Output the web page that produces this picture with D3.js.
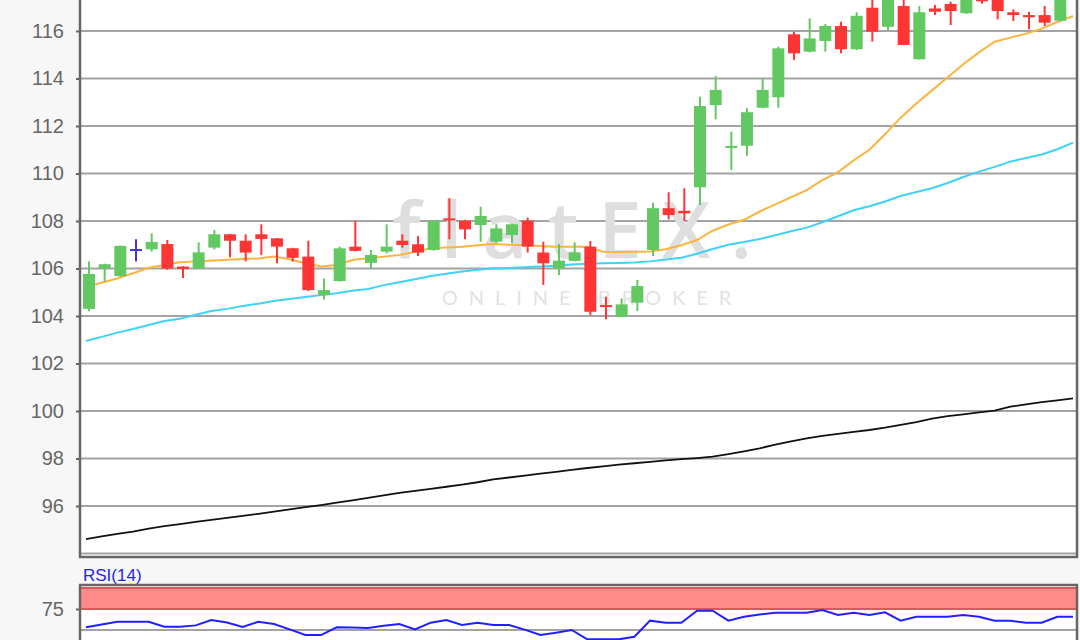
<!DOCTYPE html>
<html>
<head>
<meta charset="utf-8">
<script src="https://cdn.jsdelivr.net/npm/d3@7"></script>
<style>
  html, body { margin: 0; padding: 0; background: #f7f7f7; }
  svg { display: block; }
</style>
</head>
<body>
<svg id="chart" width="1080" height="640"></svg>
<script>
// ---------- DATA ----------
const openV  = [104.3,106.0,105.68,106.82,106.81,107.03,106.08,106.0,106.88,107.44,107.17,107.44,107.27,106.85,106.5,104.88,105.47,106.92,106.24,106.71,107.17,107.02,106.78,108.11,108.01,107.83,107.13,107.41,108.01,106.67,106.0,106.32,106.92,104.46,103.97,104.56,106.78,108.54,108.43,109.42,112.88,111.1,111.17,112.77,113.21,115.86,115.13,115.58,116.21,115.23,116.98,116.18,117.05,114.81,116.95,117.14,116.75,117.35,117.35,116.79,116.67,116.67,116.43];
const highV  = [106.3,106.2,106.97,107.23,107.48,107.2,106.1,107.1,107.62,107.45,107.44,107.86,107.28,106.87,107.17,105.58,106.92,108.0,106.78,107.86,107.44,107.37,108.03,108.96,108.05,108.6,107.86,107.88,108.14,107.13,107.03,107.1,107.16,104.81,104.74,105.52,108.77,109.21,109.38,113.23,114.11,111.76,112.75,114.01,115.34,115.97,116.53,116.29,116.39,116.79,117.4,117.8,117.5,117.05,117.09,117.23,117.5,117.5,117.5,116.91,116.81,117.05,117.6];
const lowV   = [104.2,105.45,105.65,106.3,106.71,105.95,105.6,105.98,106.8,106.47,106.3,106.57,106.22,106.29,105.05,104.7,105.45,106.72,106.0,106.64,106.88,106.53,106.75,107.23,107.23,107.13,107.06,107.06,106.67,105.31,105.73,106.3,104.04,103.86,103.95,104.21,106.53,108.07,108.0,108.67,112.28,110.15,110.75,112.75,112.77,114.78,115.1,115.13,115.06,115.2,115.55,116.04,115.41,114.8,116.67,116.25,116.72,117.15,116.49,116.42,116.07,116.21,116.4];
const closeV = [105.77,106.18,106.95,106.82,107.12,106.0,105.98,106.68,107.44,107.17,106.67,107.24,106.92,106.45,105.09,105.09,106.85,106.74,106.57,106.92,106.99,106.67,108.01,108.04,107.65,108.21,107.69,107.86,106.92,106.22,106.33,106.68,104.18,104.39,104.49,105.26,108.54,108.25,108.32,112.84,113.52,111.16,112.58,113.52,115.27,115.06,115.69,116.21,115.23,116.64,115.97,117.6,115.41,116.79,116.81,116.84,117.4,117.25,116.84,116.67,116.58,116.35,117.4];

const maOrange = [105.23,105.4,105.58,105.8,106.03,106.15,106.26,106.3,106.33,106.37,106.4,106.42,106.5,106.39,106.22,106.08,106.15,106.36,106.43,106.5,106.57,106.7,106.85,106.88,106.92,106.98,107.03,107.0,106.99,106.95,106.92,106.92,106.92,106.71,106.7,106.71,106.72,106.81,106.98,107.2,107.59,107.85,108.05,108.4,108.7,109.0,109.3,109.72,110.06,110.55,111.0,111.65,112.35,112.95,113.5,114.05,114.6,115.1,115.55,115.72,115.88,116.1,116.38,116.63];
const maCyan = [102.95,103.12,103.3,103.45,103.62,103.79,103.88,104.05,104.21,104.3,104.42,104.52,104.63,104.72,104.8,104.88,104.96,105.06,105.14,105.3,105.42,105.55,105.68,105.78,105.87,105.95,106.0,106.02,106.05,106.08,106.12,106.17,106.2,106.22,106.23,106.25,106.3,106.38,106.45,106.62,106.82,107.0,107.12,107.24,107.4,107.57,107.72,107.95,108.2,108.45,108.62,108.82,109.05,109.22,109.38,109.6,109.85,110.08,110.28,110.5,110.65,110.8,111.02,111.3];
const maBlack = [94.61,94.72,94.83,94.92,95.05,95.15,95.24,95.33,95.42,95.5,95.58,95.67,95.76,95.86,95.95,96.04,96.14,96.24,96.34,96.45,96.55,96.64,96.72,96.81,96.9,97.0,97.12,97.2,97.28,97.36,97.44,97.52,97.6,97.67,97.74,97.8,97.86,97.92,97.97,98.02,98.08,98.18,98.3,98.43,98.58,98.72,98.85,98.95,99.04,99.12,99.2,99.3,99.42,99.53,99.68,99.78,99.86,99.94,100.02,100.18,100.28,100.37,100.45,100.53];
const rsiV = [53.2,56.5,59.9,59.9,59.9,53.9,53.9,55.5,61.9,59.0,53.5,59.9,57.1,50.8,44.0,44.0,53.2,53.0,52.5,55.0,57.1,50.8,58.7,61.9,56.0,58.7,56.0,56.0,50.5,44.0,46.8,50.0,38.9,38.9,38.9,42.0,61.1,58.7,58.7,73.0,73.0,61.1,65.8,68.5,70.6,70.6,70.6,73.8,67.9,70.6,67.9,71.0,61.1,65.8,65.8,65.8,67.9,65.8,61.1,61.1,58.7,58.7,65.8,65.8];

const priceTicks = [96,98,100,102,104,106,108,110,112,114,116];
const priceGrid  = [94,96,98,100,102,104,106,108,110,112,114,116,118];
const rsiTicks = [75];
const rsiGrid = [50, 25];
const rsiBand = [75, 100];
const rsiLabel = "RSI(14)";
const wmMain = "flatEX.";
const wmSub = "ONLINE BROKER";

// ---------- LAYOUT ----------
const L = 81, R = 1077;
const mainTop = -20, mainBottom = 557;
const rsiTop = 585, rsiBottom = 700;

const svg = d3.select("#chart");
svg.append("rect").attr("width",1080).attr("height",640).attr("fill","#f7f7f7");

const x = d3.scaleLinear().domain([0, 63]).range([86, 1073]);
const y = d3.scaleLinear().domain([94, 116]).range([553.5, 31]);
const yr = d3.scaleLinear().domain([50, 75]).range([630, 609]);

const defs = svg.append("defs");
defs.append("clipPath").attr("id","clipMain").append("rect")
  .attr("x",L).attr("y",mainTop).attr("width",R-L).attr("height",mainBottom-mainTop);
defs.append("clipPath").attr("id","clipRsi").append("rect")
  .attr("x",L).attr("y",rsiTop).attr("width",R-L).attr("height",rsiBottom-rsiTop);

// ---- main panel ----
svg.append("rect").attr("x",L).attr("y",mainTop).attr("width",R-L).attr("height",mainBottom-mainTop).attr("fill","#fff");

const gMain = svg.append("g").attr("clip-path","url(#clipMain)");
gMain.selectAll("line.grid").data(priceGrid).enter().append("line")
  .attr("x1",L).attr("x2",R).attr("y1",d=>y(d)).attr("y2",d=>y(d))
  .attr("stroke","#a3a3a3").attr("stroke-width",2);

// watermark
gMain.append("text").attr("x",582).attr("y",258).attr("text-anchor","middle")
  .attr("font-family","'Open Sans', Lato, sans-serif").attr("font-size",78).attr("font-weight",600)
  .attr("letter-spacing",20).attr("fill","#dedede").text(wmMain);
gMain.append("text").attr("x",592).attr("y",305).attr("text-anchor","middle")
  .attr("font-family","Lato, 'Open Sans', sans-serif").attr("font-size",20)
  .attr("letter-spacing",11).attr("fill","#e2e2e2").text(wmSub);

// moving averages
const line = d3.line().x((d,i)=>x(i)).y(d=>y(d));
gMain.append("path").datum(maBlack).attr("d",line).attr("fill","none").attr("stroke","#111").attr("stroke-width",1.8);
gMain.append("path").datum(maCyan).attr("d",line).attr("fill","none").attr("stroke","#3fd2f7").attr("stroke-width",2);
gMain.append("path").datum(maOrange).attr("d",line).attr("fill","none").attr("stroke","#fbb440").attr("stroke-width",2);

// candles
const candles = openV.map((o,i)=>({i, o, h:highV[i], l:lowV[i], c:closeV[i]}));
const col = d => d.c > d.o ? "#62c862" : (d.c < d.o ? "#ff3535" : "#4433dd");
const offs = 3, bw = 12;
const cg = gMain.selectAll("g.candle").data(candles).enter().append("g");
cg.append("line")
  .attr("x1",d=>x(d.i)+offs).attr("x2",d=>x(d.i)+offs)
  .attr("y1",d=>y(d.h)).attr("y2",d=>y(d.l))
  .attr("stroke",col).attr("stroke-width",2);
cg.append("rect")
  .attr("x",d=>x(d.i)+offs-bw/2).attr("width",bw)
  .attr("y",d=>y(Math.max(d.o,d.c)))
  .attr("height",d=>Math.max(2, Math.abs(y(d.o)-y(d.c))))
  .attr("fill",col);

// main axis
const axMain = svg.append("g").attr("transform",`translate(${L},0)`)
  .call(d3.axisLeft(y).tickValues(priceTicks).tickSize(5).tickPadding(12).tickFormat(d3.format("d")));
axMain.select(".domain").remove();
axMain.selectAll(".tick line").attr("stroke","#666").attr("stroke-width",2);
axMain.selectAll(".tick text").attr("fill","#666").attr("font-size",20).attr("font-family","'Liberation Sans', Arial, sans-serif");

// borders main
svg.append("line").attr("x1",L-1).attr("x2",L-1).attr("y1",mainTop).attr("y2",mainBottom+1).attr("stroke","#666").attr("stroke-width",2.5);
svg.append("line").attr("x1",R).attr("x2",R).attr("y1",mainTop).attr("y2",mainBottom+1).attr("stroke","#666").attr("stroke-width",2.5);
svg.append("line").attr("x1",L-2).attr("x2",R+1).attr("y1",mainBottom).attr("y2",mainBottom).attr("stroke","#666").attr("stroke-width",2.5);

// ---- RSI panel ----
svg.append("text").attr("x",L+2).attr("y",581).attr("fill","#2424f0")
  .attr("font-family","'Liberation Sans', Arial, sans-serif").attr("font-size",17).text(rsiLabel);

svg.append("rect").attr("x",L).attr("y",rsiTop).attr("width",R-L).attr("height",rsiBottom-rsiTop).attr("fill","#fff");
const gR = svg.append("g").attr("clip-path","url(#clipRsi)");
gR.selectAll("line.rg").data(rsiGrid).enter().append("line")
  .attr("x1",L).attr("x2",R).attr("y1",d=>yr(d)).attr("y2",d=>yr(d))
  .attr("stroke","#a3a3a3").attr("stroke-width",2);
gR.append("rect").attr("x",L).attr("width",R-L)
  .attr("y",yr(rsiBand[1])).attr("height",yr(rsiBand[0])-yr(rsiBand[1]))
  .attr("fill","#ff8a8a");
gR.selectAll("line.bb").data(rsiBand).enter().append("line")
  .attr("x1",L).attr("x2",R).attr("y1",d=>yr(d)).attr("y2",d=>yr(d))
  .attr("stroke","#d65a5a").attr("stroke-width",2);
const rline = d3.line().x((d,i)=>x(i)).y(d=>yr(d));
gR.append("path").datum(rsiV).attr("d",rline).attr("fill","none").attr("stroke","#2020ff").attr("stroke-width",2);

const axR = svg.append("g").attr("transform",`translate(${L},0)`)
  .call(d3.axisLeft(yr).tickValues(rsiTicks).tickSize(5).tickPadding(12).tickFormat(d3.format("d")));
axR.select(".domain").remove();
axR.selectAll(".tick line").attr("stroke","#666").attr("stroke-width",2);
axR.selectAll(".tick text").attr("fill","#666").attr("font-size",20).attr("font-family","'Liberation Sans', Arial, sans-serif");

svg.append("line").attr("x1",L-1).attr("x2",L-1).attr("y1",rsiTop).attr("y2",rsiBottom).attr("stroke","#666").attr("stroke-width",2.5);
svg.append("line").attr("x1",R).attr("x2",R).attr("y1",rsiTop).attr("y2",rsiBottom).attr("stroke","#666").attr("stroke-width",2.5);
svg.append("line").attr("x1",L-2).attr("x2",R+1).attr("y1",rsiTop).attr("y2",rsiTop).attr("stroke","#666").attr("stroke-width",2.5);
</script>
</body>
</html>
